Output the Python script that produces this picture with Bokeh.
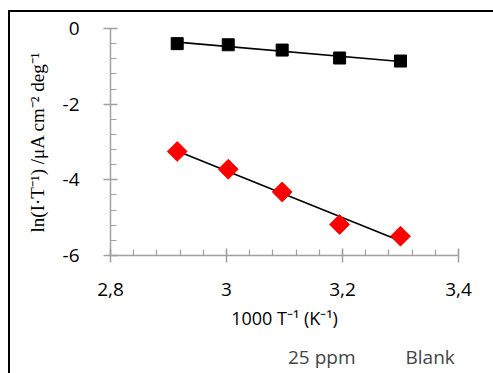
import numpy as np
from bokeh.plotting import figure
from bokeh.layouts import column
from bokeh.models import (Range1d, FixedTicker, CustomJSTickFormatter,
                          Legend, LegendItem)
from bokeh.embed import file_html
from bokeh.resources import INLINE

# ---- data ----
inv_T = [2.915, 3.003, 3.096, 3.195, 3.300]          # 1000/T (K^-1)
blank = [-0.40, -0.43, -0.57, -0.78, -0.86]           # ln(I/T), blank
ppm25 = [-3.25, -3.72, -4.32, -5.18, -5.49]           # ln(I/T), 25 ppm
series_names = ["25 ppm", "Blank"]
x_ticks = [2.8, 3.0, 3.2, 3.4]
x_tick_labels = ["2,8", "3", "3,2", "3,4"]
y_ticks = [-6, -4, -2, 0]
x_range_lim = (2.8, 3.4)
y_range_lim = (-6.0, 0.0)

# linear trend lines (least squares fit of the data)
xs = np.array(inv_T)
fit_b = np.polyfit(xs, np.array(blank), 1)
fit_p = np.polyfit(xs, np.array(ppm25), 1)
xl = [float(xs.min()), float(xs.max())]

FONT = "Open Sans"

p = figure(frame_width=348, frame_height=227,
           x_range=Range1d(*x_range_lim), y_range=Range1d(*y_range_lim),
           output_backend="svg", toolbar_location=None,
           min_border_left=100, min_border_top=16, min_border_right=35,
           min_border_bottom=85, background_fill_color="white",
           border_fill_color="white")
p.outline_line_color = None
p.grid.visible = False

# trend lines
p.line(xl, [float(v) for v in np.polyval(fit_b, xl)], line_color="black", line_width=1.6)
p.line(xl, [float(v) for v in np.polyval(fit_p, xl)], line_color="black", line_width=1.6)

p.scatter(inv_T, ppm25, marker="square", angle=np.pi / 4, size=14,
          fill_color="#ff0000", line_color="#ff0000")
p.scatter(inv_T, blank, marker="square", size=12,
          fill_color="black", line_color="black")

# axes
x_minor = [2.8 + 0.04 * i for i in range(16)]
y_minor = [-6 + 0.4 * i for i in range(16)]
p.xaxis.ticker = FixedTicker(ticks=x_ticks, minor_ticks=x_minor)
p.xaxis.formatter = CustomJSTickFormatter(
    args=dict(tv=x_ticks, tl=x_tick_labels),
    code="""
  for (let i = 0; i < tv.length; i++) {
    if (Math.abs(tv[i] - tick) < 1e-6) return tl[i];
  }
  return '';
""")
p.yaxis.ticker = FixedTicker(ticks=y_ticks, minor_ticks=y_minor)
p.yaxis.formatter = CustomJSTickFormatter(code="return Math.round(tick).toString();")

for ax in (p.xaxis[0], p.yaxis[0]):
    ax.axis_line_color = "#a0a0a0"
    ax.axis_line_width = 1.5
    ax.major_tick_line_color = "#a0a0a0"
    ax.minor_tick_line_color = "#a0a0a0"
    ax.major_tick_line_width = 1.5
    ax.minor_tick_line_width = 1.2
    ax.major_tick_in = 7
    ax.major_tick_out = 7
    ax.minor_tick_in = 6
    ax.minor_tick_out = 0
    ax.major_label_text_font = FONT
    ax.major_label_text_font_size = "19px"
    ax.major_label_text_color = "black"

p.xaxis.major_label_standoff = 20
p.yaxis.major_label_standoff = 24
p.xaxis.axis_label = "1000 T\u207b\u00b9 (K\u207b\u00b9)"
p.xaxis.axis_label_text_font = FONT
p.xaxis.axis_label_text_font_style = "normal"
p.xaxis.axis_label_text_font_size = "18px"
p.xaxis.axis_label_text_color = "black"
p.xaxis.axis_label_standoff = 7
p.yaxis.axis_label = "ln(I\u00b7T\u207b\u00b9) /\u03bcA cm\u207b\u00b2 deg\u207b\u00b9"
p.yaxis.axis_label_text_font = "Liberation Serif"
p.yaxis.axis_label_text_font_style = "normal"
p.yaxis.axis_label_text_font_size = "19px"
p.yaxis.axis_label_text_color = "black"
p.yaxis.axis_label_standoff = 12

# ---- legend strip below the chart (own small figure, no axes) ----
leg = figure(width=483, height=33, x_range=Range1d(0, 1), y_range=Range1d(0, 1),
             output_backend="svg", toolbar_location=None,
             min_border=0, background_fill_color="white", border_fill_color="white")
leg.axis.visible = False
leg.grid.visible = False
leg.outline_line_color = None
sw_p = leg.scatter([], [], marker="diamond", size=14,
                   fill_color="#ff0000", line_color="#ff0000")
sw_b = leg.scatter([], [], marker="square", size=12,
                   fill_color="black", line_color="black")
legend = Legend(items=[LegendItem(label=series_names[0], renderers=[sw_p]),
                       LegendItem(label=series_names[1], renderers=[sw_b])],
                orientation="horizontal", location=(146, 0),
                label_text_font=FONT, label_text_font_size="19px",
                border_line_alpha=0, background_fill_alpha=0,
                glyph_width=32, glyph_height=32, spacing=18,
                label_standoff=0, padding=0, margin=0)
leg.add_layout(legend, "center")

layout = column(p, leg, spacing=0)
layout.styles = {"border-left": "2px solid black", "border-top": "2px solid black",
                 "margin-left": "8px", "margin-top": "10px"}

open("out.html", "w").write(file_html(layout, INLINE))
